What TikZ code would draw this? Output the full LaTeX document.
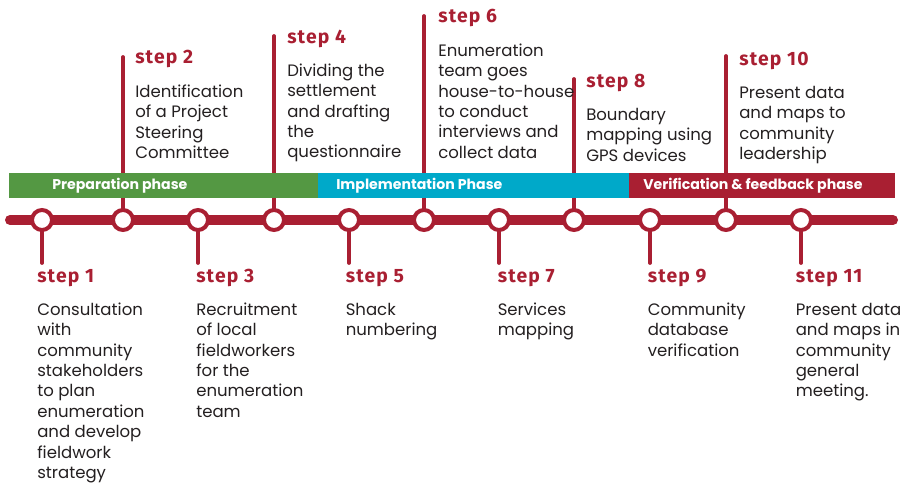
\documentclass[tikz,border=0pt]{standalone}
\usepackage{fontspec}
\usetikzlibrary{calc}
\setmainfont{Poppins}
\newfontfamily\labelfont{Fira Sans}[LetterSpace=6]
\definecolor{tlred}{HTML}{A91F32}
\definecolor{tlgreen}{HTML}{549843}
\definecolor{tlblue}{HTML}{00A9C9}
\definecolor{txt}{HTML}{231F20}
\newcommand{\descsize}{\fontsize{12.4pt}{15.35pt}\selectfont}
\tikzset{
  stepdot/.style={circle, draw=tlred, line width=3pt, fill=white, minimum size=15pt, inner sep=0pt},
  stem/.style={draw=tlred, line width=2.8pt},
  steplabel/.style={anchor=base west, inner sep=0pt, text=tlred, font=\labelfont\bfseries\fontsize{14.5pt}{16pt}\selectfont},
  desc/.style={anchor=north west, inner sep=0pt, align=left, text=txt, font=\descsize},
  phasebar/.style={anchor=west, inner sep=0pt, text=white, font=\bfseries\fontsize{10.6pt}{12pt}\selectfont},
}
\begin{document}
\begin{tikzpicture}[x=0.75pt, y=-0.75pt]
\useasboundingbox (0,0) rectangle (913,484);

% step positions along the timeline
\foreach \i/\x in {1/42,2/123,3/198,4/274,5/349,6/424,7/499,8/574,9/650,10/726,11/801}
  \coordinate (p\i) at (\x,220);

% stem ends
\coordinate (t2) at (123,57);
\coordinate (t4) at (274,36);
\coordinate (t6) at (424,16);
\coordinate (t8) at (574,79);
\coordinate (t10) at (726,56);
\foreach \i in {1,3,5,7,9,11} \coordinate (b\i) at ($(p\i)+(0,43)$);

% stems
\foreach \i in {2,4,6,8,10} \draw[stem, line cap=round] (p\i) -- (t\i);
\foreach \i in {1,3,5,7,9,11} \draw[stem, line cap=round] (p\i) -- (b\i);

% phase bars
\fill[tlgreen] (9,173) rectangle (318,198);
\fill[tlblue] (318,173) rectangle (629,198);
\fill[tlred] (629,173) rectangle (895,198);
\node[phasebar] (ph1) at (52,185.5) {Preparation phase};
\node[phasebar] (ph2) at (336,185.5) {Implementation Phase};
\node[phasebar] (ph3) at (643,185.5) {Verification \& feedback phase};

% main line
\coordinate (lineL) at (10,220);
\coordinate (lineR) at (893,220);
\draw[tlred, line width=7.5pt, line cap=round] (lineL) -- (lineR);

% step markers
\foreach \i in {1,...,11} \node[stepdot] (d\i) at (p\i) {};

% upper steps
\node[steplabel] (s2) at (135,64) {step 2};
\node[desc] (x2) at (135,82.5) {\strut Identification\\of a Project\\Steering\\Committee};
\node[steplabel] (s4) at (287,44) {step 4};
\node[desc] (x4) at (287,61.5) {\strut Dividing the\\settlement\\and drafting\\the\\questionnaire};
\node[steplabel] (s6) at (438,23) {step 6};
\node[desc] (x6) at (438,41.5) {\strut Enumeration\\team goes\\house-to-house\\to conduct\\interviews and\\collect data};
\node[steplabel] (s8) at (586,88) {step 8};
\node[desc] (x8) at (586,105.5) {\strut Boundary\\mapping using\\GPS devices};
\node[steplabel] (s10) at (739,66) {step 10};
\node[desc] (x10) at (739,83.5) {\strut Present data\\and maps to\\community\\leadership};

% lower steps
\node[steplabel] (s1) at (37,283) {step 1};
\node[desc] (x1) at (37,300.5) {\strut Consultation\\with\\community\\stakeholders\\to plan\\enumeration\\and develop\\fieldwork\\strategy};
\node[steplabel] (s3) at (196,283) {step 3};
\node[desc] (x3) at (196,300.5) {\strut Recruitment\\of local\\fieldworkers\\for the\\enumeration\\team};
\node[steplabel] (s5) at (345.5,283) {step 5};
\node[desc] (x5) at (345.5,300.5) {\strut Shack\\numbering};
\node[steplabel] (s7) at (497.5,283) {step 7};
\node[desc] (x7) at (497.5,300.5) {\strut Services\\mapping};
\node[steplabel] (s9) at (647.5,283) {step 9};
\node[desc] (x9) at (647.5,300.5) {\strut Community\\database\\verification};
\node[steplabel] (s11) at (795.5,283) {step 11};
\node[desc] (x11) at (795.5,300.5) {\strut Present data\\and maps in\\community\\general\\meeting.};
\end{tikzpicture}
\end{document}
